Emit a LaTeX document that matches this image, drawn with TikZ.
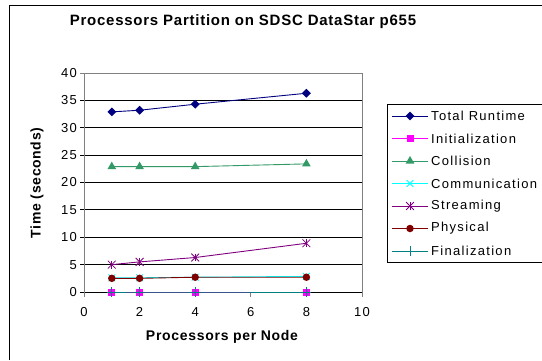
\documentclass[tikz,border=0pt]{standalone}
\usepackage{fontspec}
\setmainfont{Liberation Sans}
\newfontfamily\ticfont[LetterSpace=10]{Liberation Sans}
\newfontfamily\labfont[LetterSpace=5]{Liberation Sans}
\usetikzlibrary{shapes.geometric,shapes.misc}
\definecolor{cnavy}{RGB}{0,0,128}
\definecolor{cmag}{RGB}{255,0,255}
\definecolor{cgreen}{RGB}{51,153,102}
\definecolor{ccyan}{RGB}{0,255,255}
\definecolor{cpurple}{RGB}{128,0,128}
\definecolor{cdred}{RGB}{128,0,0}
\definecolor{cteal}{RGB}{0,128,128}
\definecolor{cgray}{RGB}{128,128,128}
\tikzset{
  grid line/.style={black, line width=0.9pt},
  frame line/.style={cgray, line width=0.9pt},
  series/.style={line width=0.9pt},
  mdia/.style={diamond, fill=cnavy, inner sep=0pt, minimum size=9pt},
  msq/.style={rectangle, fill=cmag, inner sep=0pt, minimum size=7pt},
  mtri/.style={regular polygon, regular polygon sides=3, fill=cgreen, inner sep=0pt, minimum size=10pt},
  mcross/.style={cross out, draw=ccyan, line width=0.8pt, inner sep=0pt, minimum size=6pt},
  mast/.style={cross out, draw=cpurple, line width=0.8pt, inner sep=0pt, minimum size=7pt},
  mcirc/.style={circle, fill=cdred, inner sep=0pt, minimum size=7.5pt},
  mplus/.style={cross out, rotate=45, draw=cteal, line width=0.8pt, inner sep=0pt, minimum size=6pt},
  ticklab/.style={font=\ticfont\fontsize{13}{15}\selectfont, inner sep=0pt},
  leglab/.style={font=\ticfont\fontsize{13}{15}\selectfont, inner sep=0pt, anchor=west},
  axlab/.style={font=\labfont\bfseries\fontsize{14}{16}\selectfont, inner sep=0pt},
}
\begin{document}
\begin{tikzpicture}[x=1pt,y=-1pt]
\useasboundingbox[fill=white] (0,0) rectangle (542,360);
% chart area border
\draw[black, line width=0.9pt] (9.5,360) -- (9.5,5) -- (542,5);
% title
\node[font=\labfont\bfseries\fontsize{15}{17}\selectfont, inner sep=0pt] (title) at (243,22) {Processors Partition on SDSC DataStar p655};
% grid lines and y ticks
\foreach \v in {0,5,...,35} {
  \draw[grid line] ({80},{292-5.475*\v}) -- (362,{292-5.475*\v});
  \node[ticklab, anchor=east] (yl\v) at (77,{292-5.475*\v}) {\v};
}
\draw[frame line] (80,73) -- (362,73) -- (362,292);
\node[ticklab, anchor=east] (yl40) at (77,73) {40};
\draw[frame line] (84,73) -- (84,292);
\draw[grid line] (84,292) -- (362,292);
% x ticks
\foreach \u in {0,2,4,6,8,10} {
  \draw[frame line] ({84+27.8*\u},292) -- ({84+27.8*\u},297);
  \node[ticklab] (xl\u) at ({84+27.8*\u},312) {\u};
}
% axis labels
\node[axlab] (xlab) at (222,337) {Processors per Node};
\node[axlab, rotate=90] (ylab) at (37,183) {Time (seconds)};
\begin{scope}[shift={(84,292)}, x=27.8pt, y=5.475pt]
% series 1: Total Runtime
\coordinate (t1) at (1,32.9);
\coordinate (t2) at (2,33.2);
\coordinate (t4) at (4,34.3);
\coordinate (t8) at (8,36.3);
\draw[series, cnavy] (t1) -- (t2) -- (t4) -- (t8);
\foreach \p in {t1,t2,t4,t8} \node[mdia] (m\p) at (\p) {};
% series 2: Initialization
\coordinate (i1) at (1,0);
\coordinate (i2) at (2,0);
\coordinate (i4) at (4,0);
\coordinate (i8) at (8,0);
\draw[series, cmag] (i1) -- (i2) -- (i4) -- (i8);
\foreach \p in {i1,i2,i4,i8} \node[msq] (m\p) at (\p) {};
% series 3: Collision
\coordinate (c1) at (1,22.9);
\coordinate (c2) at (2,22.9);
\coordinate (c4) at (4,22.9);
\coordinate (c8) at (8,23.4);
\draw[series, cgreen] (c1) -- (c2) -- (c4) -- (c8);
\foreach \p in {c1,c2,c4,c8} \node[mtri] (m\p) at (\p) {};
% series 4: Communication
\coordinate (k1) at (1,2.6);
\coordinate (k2) at (2,2.6);
\coordinate (k4) at (4,2.7);
\coordinate (k8) at (8,2.85);
\draw[series, ccyan] (k1) -- (k2) -- (k4) -- (k8);
\foreach \p in {k1,k2,k4,k8} \node[mcross] (m\p) at (\p) {};
% series 5: Streaming
\coordinate (s1) at (1,5.0);
\coordinate (s2) at (2,5.5);
\coordinate (s4) at (4,6.3);
\coordinate (s8) at (8,8.9);
\draw[series, cpurple] (s1) -- (s2) -- (s4) -- (s8);
\foreach \p in {s1,s2,s4,s8} {
  \node[mast] (m\p) at (\p) {};
  \draw[cpurple, line width=0.8pt] (m\p.north) -- (m\p.south);
}
% series 6: Physical
\coordinate (h1) at (1,2.5);
\coordinate (h2) at (2,2.5);
\coordinate (h4) at (4,2.7);
\coordinate (h8) at (8,2.7);
\draw[series, cdred] (h1) -- (h2) -- (h4) -- (h8);
\foreach \p in {h1,h2,h4,h8} \node[mcirc] (m\p) at (\p) {};
% series 7: Finalization
\coordinate (f1) at (1,0);
\coordinate (f2) at (2,0);
\coordinate (f4) at (4,0);
\coordinate (f8) at (8,0);
\draw[series, cteal] (f1) -- (f2) -- (f4) -- (f8);
\foreach \p in {f1,f2,f4,f8} \node[mplus] (m\p) at (\p) {};
\end{scope}
% legend
\draw[black, line width=0.9pt] (542,104) -- (387,104) -- (387,262) -- (542,262);
\foreach \n/\lab/\col/\mk [count=\i from 0] in {
  lt/Total Runtime/cnavy/mdia,
  li/Initialization/cmag/msq,
  lc/Collision/cgreen/mtri,
  lk/Communication/ccyan/mcross,
  ls/Streaming/cpurple/mast,
  lh/Physical/cdred/mcirc,
  lf/Finalization/cteal/mplus} {
  \coordinate (\n a) at (392,{116+22.5*\i});
  \coordinate (\n b) at (428,{116+22.5*\i});
  \draw[series, \col] (\n a) -- (\n b);
  \node[\mk] (\n m) at (410,{116+22.5*\i}) {};
  \node[leglab] (\n t) at (431,{116+22.5*\i}) {\lab};
}
\draw[cpurple, line width=0.8pt] (lsm.north) -- (lsm.south);
\end{tikzpicture}
\end{document}
